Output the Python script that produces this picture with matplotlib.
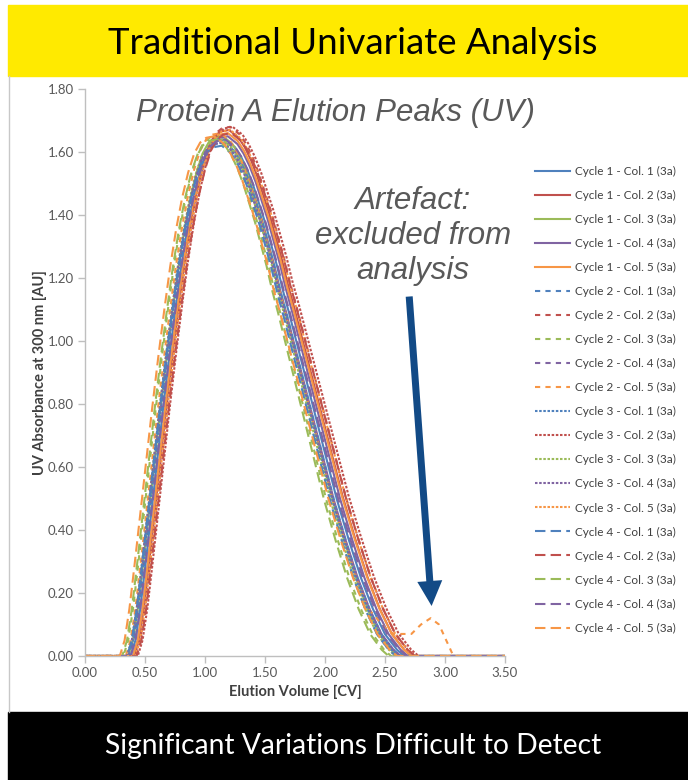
import matplotlib
matplotlib.use("Agg")
import matplotlib.pyplot as plt
from matplotlib.patches import Rectangle
from matplotlib.lines import Line2D
import numpy as np

# typical elution profile (CV, AU)
base_x = [0.00, 0.38, 0.42, 0.46, 0.50, 0.55, 0.60, 0.65, 0.70, 0.75, 0.80, 0.85, 0.90,
          0.95, 1.00, 1.05, 1.10, 1.17, 1.25, 1.30, 1.35, 1.40, 1.45, 1.50, 1.55,
          1.60, 1.65, 1.70, 1.80, 1.90, 2.00, 2.10, 2.20, 2.30, 2.40, 2.50, 2.60, 2.66, 3.50]
base_y = [0.00, 0.00, 0.05, 0.15, 0.28, 0.45, 0.62, 0.79, 0.95, 1.10, 1.24, 1.36, 1.46,
          1.54, 1.60, 1.635, 1.65, 1.655, 1.63, 1.60, 1.56, 1.51, 1.45, 1.39, 1.32,
          1.25, 1.17, 1.10, 0.95, 0.80, 0.65, 0.50, 0.37, 0.25, 0.15, 0.07, 0.02, 0.00, 0.00]
base_peak_x = 1.17
base_peak_y = 1.655
base_end_x = 2.66

cycles = [1, 2, 3, 4]
columns = [1, 2, 3, 4, 5]

# per-run offsets (order: cycle 1 col 1..5, cycle 2 col 1..5, ...)
onset_shift = [0.00, 0.03, -0.02, 0.02, 0.02,
               -0.01, 0.04, -0.06, -0.02, -0.04,
               -0.02, 0.06, -0.03, -0.03, 0.04,
               -0.03, 0.05, -0.07, 0.00, -0.09]
tail_shift = [0.00, 0.03, -0.03, 0.01, 0.04,
              -0.02, 0.05, -0.05, -0.01, 0.00,
              -0.03, 0.06, -0.04, 0.00, 0.05,
              -0.04, 0.04, -0.06, 0.02, 0.03]
peak_height = [1.64, 1.67, 1.65, 1.65, 1.66,
               1.63, 1.68, 1.65, 1.64, 1.66,
               1.63, 1.68, 1.64, 1.63, 1.67,
               1.62, 1.66, 1.64, 1.64, 1.65]

# artefact trace (cycle 2 - col. 5) after the main peak
artefact_x = [2.50, 2.57, 2.72, 2.80, 2.88, 2.95, 3.07, 3.50]
artefact_y = [0.09, 0.07, 0.07, 0.10, 0.12, 0.10, 0.00, 0.00]
artefact_run = 9

col_colors = ['#4F81BD', '#C0504D', '#9BBB59', '#8064A2', '#F79646']
cycle_dashes = [None, (2.5, 2.5), (1.2, 0.8), (5, 2.5)]

fig = plt.figure(figsize=(6.88, 7.8), dpi=100)
fig.patch.set_facecolor('white')

# banners
fig.patches.append(Rectangle((8 / 688, 1 - 76 / 780), 680 / 688, 71 / 780,
                             transform=fig.transFigure, color='#FFEA00', zorder=0))
fig.patches.append(Rectangle((8 / 688, 0), 680 / 688, 68 / 780,
                             transform=fig.transFigure, color='black', zorder=0))
fig.lines.append(Line2D([8.5 / 688, 8.5 / 688], [68 / 780, 1 - 76 / 780],
                        transform=fig.transFigure, color='#C8C8C8', lw=1))
fig.text(353 / 688, 1 - 44 / 780, 'Traditional Univariate Analysis', ha='center', va='center',
         fontsize=26.4, family='Lato', color='black')
fig.text(353 / 688, 34 / 780, 'Significant Variations Difficult to Detect', ha='center',
         va='center', fontsize=20.3, family='Lato', color='white')

ax = fig.add_axes([85 / 688, 124 / 780, 420 / 688, 567 / 780])

bx = np.array(base_x)
by = np.array(base_y)
interior = (bx > 0) & (bx < 3.5)
fall_frac = np.clip((bx - base_peak_x) / (base_end_x - base_peak_x), 0, 1)

k = 0
for ci, cyc in enumerate(cycles):
    for cj, col in enumerate(columns):
        x = bx + interior * (onset_shift[k] + tail_shift[k] * fall_frac)
        y = by * peak_height[k] / base_peak_y
        if k == artefact_run:
            keep = bx <= 2.40
            x = np.concatenate([x[keep], artefact_x])
            y = np.concatenate([y[keep], artefact_y])
        line, = ax.plot(x, y, color=col_colors[cj], lw=1.5,
                        label=f'Cycle {cyc} - Col. {col} (3a)')
        if cycle_dashes[ci] is not None:
            line.set_dashes(cycle_dashes[ci])
        k += 1

ax.set_xlim(0, 3.5)
ax.set_ylim(0, 1.8)
ax.set_xticks(np.arange(0, 3.51, 0.5))
ax.set_yticks(np.arange(0, 1.81, 0.2))
ax.set_xticklabels([f'{v:.2f}' for v in np.arange(0, 3.51, 0.5)])
ax.set_yticklabels([f'{v:.2f}' for v in np.arange(0, 1.81, 0.2)])
for s in ['top', 'right']:
    ax.spines[s].set_visible(False)
for s in ['left', 'bottom']:
    ax.spines[s].set_color('#BFBFBF')
    ax.spines[s].set_linewidth(1)
ax.tick_params(colors='#BFBFBF', labelcolor='#595959', labelsize=9.5, length=5, width=1, pad=3)
for lab in ax.get_xticklabels() + ax.get_yticklabels():
    lab.set_family('Lato')
ax.set_xlabel('Elution Volume [CV]', fontsize=10.5, fontweight='bold', family='Lato',
              color='#404040', labelpad=4)
ax.set_ylabel('UV Absorbance at 300 nm [AU]', fontsize=10.5, fontweight='bold', family='Lato',
              color='#404040', labelpad=0.5)

leg = ax.legend(loc='upper left', bbox_to_anchor=(450 / 420, 1 - (166 - 89) / 567),
                frameon=False, prop={'family': 'Lato', 'size': 8.5},
                handlelength=3.0, handletextpad=0.4, labelspacing=1.1,
                borderaxespad=0, borderpad=0)
for t in leg.get_texts():
    t.set_color('#404040')

fig.text(335 / 688, 1 - 113 / 780, 'Protein A Elution Peaks (UV)', ha='center', va='center',
         fontsize=22.5, style='italic', family='Liberation Sans', color='#595959')
fig.text(413 / 688, 1 - 236 / 780, 'Artefact:\nexcluded from\nanalysis', ha='center',
         va='center', fontsize=22.5, style='italic', family='Liberation Sans', color='#595959',
         linespacing=1.2)

ax.annotate('', xy=(2.89, 0.15), xytext=(2.70, 1.15),
            arrowprops=dict(arrowstyle='simple,head_length=1.0,head_width=1.0,tail_width=0.28',
                            mutation_scale=18, color='#124A86', lw=0))

fig.savefig('out.png', dpi=100)
